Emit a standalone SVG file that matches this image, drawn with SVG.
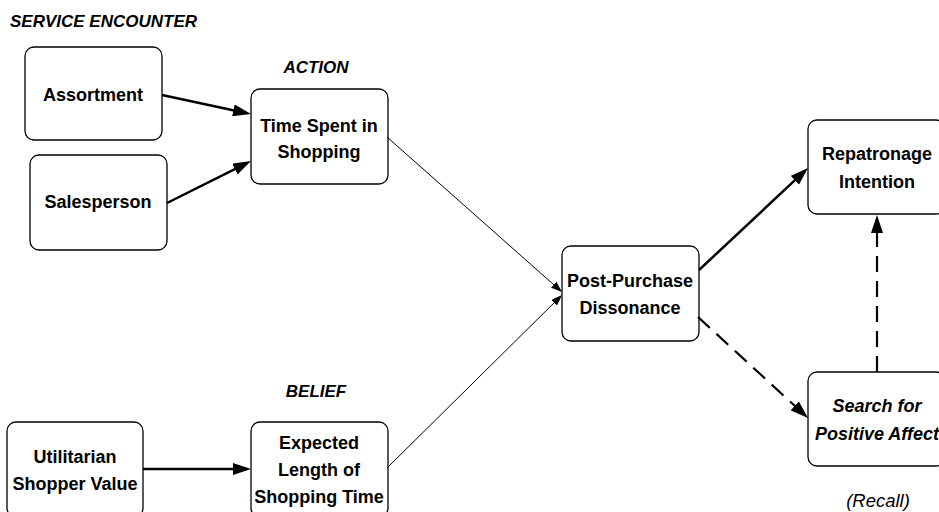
<svg xmlns="http://www.w3.org/2000/svg" width="939" height="512" viewBox="0 0 939 512">
<style>
.box{fill:#fff;stroke:#000;stroke-width:1.3}
.t{font-family:"Liberation Sans",Arial,sans-serif;font-weight:bold;font-size:18px;text-anchor:middle;fill:#000}
.ti{font-family:"Liberation Sans",Arial,sans-serif;font-weight:bold;font-style:italic;font-size:18px;text-anchor:middle;fill:#000}
.hd{font-family:"Liberation Sans",Arial,sans-serif;font-weight:bold;font-style:italic;font-size:17px;fill:#000}
.rc{font-family:"Liberation Sans",Arial,sans-serif;font-style:italic;font-size:18.5px;text-anchor:middle;fill:#000}
.thick{fill:none;stroke:#000;stroke-width:2.5}
.thin{fill:none;stroke:#000;stroke-width:1}
.dash{fill:none;stroke:#000;stroke-width:2.2;stroke-dasharray:16 9}
</style>
<defs>
<marker id="ah" viewBox="0 0 18 12" refX="14" refY="6" markerWidth="18" markerHeight="12" orient="auto" markerUnits="userSpaceOnUse"><path d="M0,0 L18,6 L0,12 z" fill="#000"/></marker>
<marker id="ahs" viewBox="0 0 11 8" refX="9" refY="4" markerWidth="11" markerHeight="8" orient="auto" markerUnits="userSpaceOnUse"><path d="M0,0 L11,4 L0,8 z" fill="#000"/></marker>
</defs>
<rect width="939" height="512" fill="#fff"/>
<text class="hd" x="10" y="27">SERVICE ENCOUNTER</text>
<text class="hd" x="316" y="73" text-anchor="middle">ACTION</text>
<text class="hd" x="316" y="397" text-anchor="middle">BELIEF</text>
<text class="rc" x="878" y="507">(Recall)</text>

<g id="assortment"><rect class="box" x="25" y="47" width="137" height="93" rx="9"/><text class="t" x="93" y="101">Assortment</text></g>
<g id="salesperson"><rect class="box" x="30" y="155" width="137" height="95" rx="9"/><text class="t" x="98" y="208">Salesperson</text></g>
<g id="time-spent"><rect class="box" x="251" y="89" width="137" height="95" rx="9"/><text class="t" x="319" y="132">Time Spent in</text><text class="t" x="319" y="158">Shopping</text></g>
<g id="utilitarian"><rect class="box" x="7" y="422" width="136" height="95" rx="9"/><text class="t" x="75" y="463">Utilitarian</text><text class="t" x="75" y="490">Shopper Value</text></g>
<g id="expected"><rect class="box" x="251" y="422" width="137" height="95" rx="9"/><text class="t" x="319" y="449">Expected</text><text class="t" x="319" y="476">Length of</text><text class="t" x="319" y="503">Shopping Time</text></g>
<g id="post-purchase"><rect class="box" x="562" y="246" width="137" height="95" rx="9"/><text class="t" x="630" y="287">Post-Purchase</text><text class="t" x="630" y="314">Dissonance</text></g>
<g id="repatronage"><rect class="box" x="808" y="120" width="137" height="94" rx="9"/><text class="t" x="877" y="160">Repatronage</text><text class="t" x="877" y="188">Intention</text></g>
<g id="search"><rect class="box" x="808" y="372" width="137" height="94" rx="9"/><text class="ti" x="877" y="412">Search for</text><text class="ti" x="877" y="440">Positive Affect</text></g>

<g id="connectors">
<line class="thick" x1="162" y1="95" x2="247.1" y2="113.2" marker-end="url(#ah)"/>
<line class="thick" x1="167" y1="203" x2="247.4" y2="162.8" marker-end="url(#ah)"/>
<line class="thick" x1="143" y1="469" x2="247" y2="469" marker-end="url(#ah)"/>
<line class="thin" x1="387" y1="137" x2="560.5" y2="290.7" marker-end="url(#ahs)"/>
<line class="thin" x1="387" y1="468" x2="560.6" y2="296.4" marker-end="url(#ahs)"/>
<line class="thick" x1="699" y1="270" x2="805.1" y2="170.7" marker-end="url(#ah)"/>
<line class="dash" x1="698" y1="317" x2="805.1" y2="415.3" marker-end="url(#ah)"/>
<line class="dash" x1="877" y1="372" x2="877" y2="219" marker-end="url(#ah)"/>
</g>
</svg>
